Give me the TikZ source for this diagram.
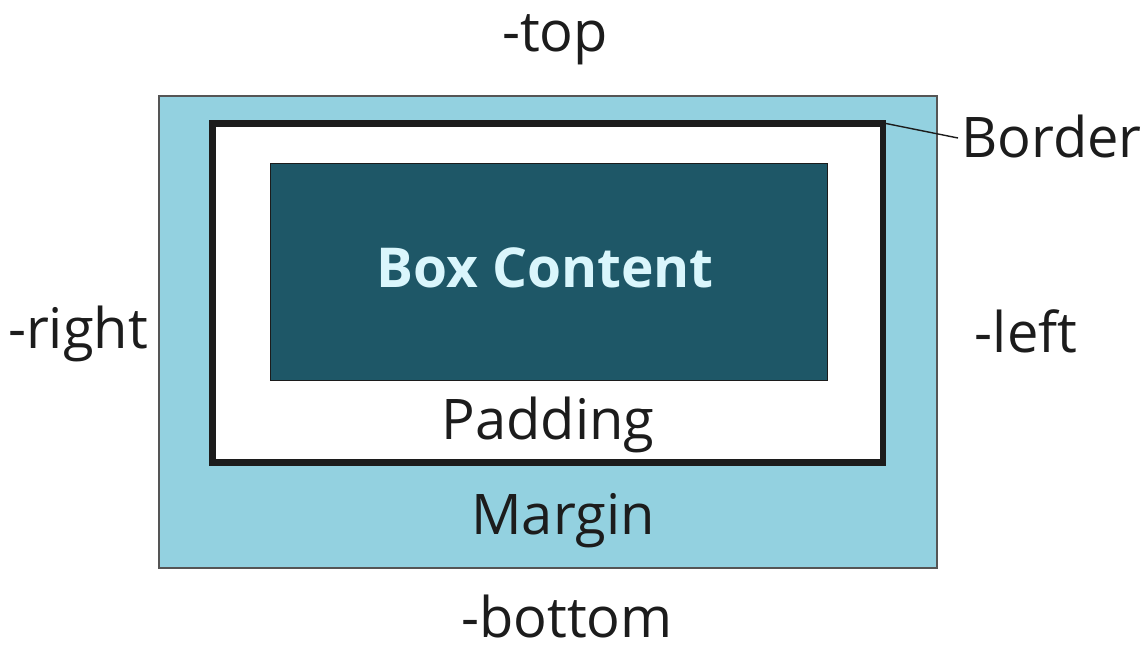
\documentclass[tikz,border=0pt]{standalone}
\usepackage{fontspec}
\setmainfont{Open Sans}
\definecolor{marginfill}{HTML}{93D1E0}
\definecolor{contentfill}{HTML}{1E5767}
\definecolor{contenttext}{HTML}{DAF6FC}
\definecolor{ink}{HTML}{1C1C1C}
\definecolor{edge}{HTML}{555555}
\tikzset{
  label/.style={inner sep=0pt, anchor=base, text=ink, font=\fontsize{56}{60}\selectfont},
  marginbox/.style={fill=marginfill, draw=edge, line width=1.2pt},
  borderbox/.style={fill=white, draw=ink, line width=6.5pt},
  contentbox/.style={fill=contentfill, draw=ink, line width=1pt},
  leader/.style={draw=ink, line width=1.4pt}
}
\begin{document}
\begin{tikzpicture}[x=1pt, y=-1pt]
  \useasboundingbox (0,0) rectangle (1145,646);
  % nested boxes
  \draw[marginbox] (159,96) rectangle (937,568);
  \draw[borderbox] (212.5,123.5) rectangle (883,462.5);
  \coordinate (bordercorner) at (886,123.5);
  \draw[contentbox] (270,163) rectangle (827,380);
  % labels
  \node[label, font=\fontsize{55}{60}\selectfont\bfseries, text=contenttext] (content) at (545,287) {Box Content};
  \node[label] (padding) at (548,439) {Padding};
  \node[label] (margin) at (563,534) {Margin};
  \node[label] (top) at (555,51.5) {-top};
  \node[label] (bottom) at (567,637) {-bottom};
  \node[label] (right) at (78,348) {-right};
  \node[label] (left) at (1026,352) {-left};
  \node[label, anchor=base west] (border) at (961,157) {Border};
  % leader from border to its label
  \coordinate (leaderend) at (958,138);
  \draw[leader] (bordercorner) -- (leaderend);
\end{tikzpicture}
\end{document}
